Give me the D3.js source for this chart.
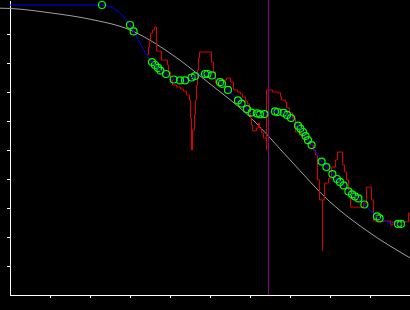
<!DOCTYPE html>
<html>
<head>
<meta charset="utf-8">
<script src="https://cdn.jsdelivr.net/npm/d3@7"></script>
<style>
  body { margin: 0; background: #000; }
  #graphic { width: 410px; height: 310px; }
</style>
</head>
<body>
<div id="graphic"></div>
<script>
// reference curve (gray)
const refX = [-2.5, 0, 10, 20, 30, 40, 50, 60, 70, 80, 90, 100];
const refY = [98.9, 98.8, 97.3, 95.1, 91.4, 83.4, 72.8, 61.4, 46.6, 32.1, 21.4, 12.8];

// raw signal (red, stepped)
const rawX = [34.25, 34.5, 34.75, 35, 35.5, 36, 36.5, 37.75, 39.25, 39.5, 40, 40.5, 41.5, 42.5, 43.25, 44, 44.75, 45, 45.25, 45.5, 46, 46.25, 46.5, 46.75, 47, 47.25,
  50.25, 50.75, 51.25, 52.25, 54, 55, 55.75, 56.75, 57.5, 58, 58.75, 59.25, 59.75, 60, 60.25, 60.5, 61.5, 62, 62.25, 62.75, 63.25, 64,
  64, 65.5, 67, 67.5, 67.75, 68.75, 69, 69.75, 70.5, 71.25, 72, 72.75, 73.5, 74.25, 75, 75.75, 76.25, 76.75, 77.25, 78, 78, 78.5,
  79.5, 80.25, 81.25, 81.75, 83, 83.5, 84, 84.5, 85, 88.25, 89, 90.25, 90.75, 94.5, 95, 95.5, 99.25, 99.5, 100];
const rawY = [82.8, 85.2, 87.9, 90.3, 91.4, 92.4, 84.1, 81.0, 79.3, 76.9, 74.1, 72.4, 71.7, 71.0, 70.3, 69.0, 67.2, 61.0, 50.0, 56.9, 62.1, 67.2, 72.4, 77.6, 81.7, 83.8,
  80.3, 76.9, 73.1, 74.1, 74.8, 73.4, 70.7, 70.0, 69.3, 68.3, 66.9, 65.9, 63.4, 61.0, 58.6, 56.6, 57.6, 59.3, 57.6, 55.9, 54.1, 50.0,
  70.7, 70.0, 69.7, 68.3, 67.2, 66.6, 64.5, 62.8, 61.0, 56.2, 55.9, 54.8, 54.1, 53.1, 51.7, 50.0, 48.3, 39.7, 32.8, 15.2, 32.8, 38.6,
  40.3, 44.1, 46.6, 49.3, 44.8, 42.4, 39.7, 36.2, 30.3, 31.7, 37.2, 32.8, 25.5, 25.5, 24.1, 25.2, 25.2, 28.3, 28.3];

// fitted samples (green circles, joined by blue)
const fitX = [23, 30, 30.9, 35.5, 36.25, 37, 37.6, 39, 40.9, 42.5, 43.75, 45.4, 46.25, 48.75, 49.4, 50.5, 52.5, 53, 54.5, 57, 57.9, 59.25, 60.4, 61.75, 62.5, 63.6,
  66.25, 66.9, 68.4, 69.25, 70.25, 72, 72.6, 73.25, 73.9, 74.5, 75.4, 77.9, 79.1, 80.6, 81.75, 82.5, 83.4, 84.6, 85.5, 86.25, 87.1, 88.6, 91.75, 92.4, 97, 97.75];
const fitY = [100, 93.1, 90.9, 80.3, 79.3, 78.3, 77.4, 76.2, 74.3, 74.0, 74.0, 75.0, 75.5, 76.2, 76.2, 75.7, 73.4, 72.8, 70.7, 67.1, 66.0, 64.1, 62.9, 62.6, 62.3, 62.4,
  63.3, 63.1, 62.8, 62.1, 61.0, 58.4, 57.4, 56.2, 54.8, 53.4, 51.7, 46.0, 44.1, 41.7, 40.0, 39.0, 37.8, 35.7, 34.7, 34.0, 33.3, 31.2, 27.1, 26.4, 24.5, 24.5];

const startX = 0, startY = 100;
const markerX = 64.625;
const tickVals = [10, 20, 30, 40, 50, 60, 70, 80, 90];

const width = 410, height = 310;

const svg = d3.select("#graphic")
    .append("svg")
    .attr("width", width)
    .attr("height", height)
    .style("display", "block");

const x = d3.scaleLinear().domain([0, 100]).range([10, 410]);
const y = d3.scaleLinear().domain([0, 101.72]).range([295, 0]);

// axes
svg.append("g")
    .attr("transform", "translate(10,0)")
    .call(d3.axisLeft(y).tickValues(tickVals).tickSize(3).tickSizeOuter(0).tickFormat(""))
    .call(g => g.selectAll("path, line").attr("stroke", "#fff").attr("shape-rendering", "crispEdges"));

svg.append("g")
    .attr("transform", "translate(0,295)")
    .call(d3.axisBottom(x).tickValues(tickVals).tickSize(3).tickSizeOuter(0).tickFormat(""))
    .call(g => g.selectAll("path, line").attr("stroke", "#fff").attr("shape-rendering", "crispEdges"));

// gray reference
const refPts = refX.map((v, i) => [v, refY[i]]);
svg.append("path")
    .datum(refPts)
    .attr("fill", "none")
    .attr("stroke", "#a0a0a0")
    .attr("stroke-width", 1)
    .attr("d", d3.line().x(d => x(d[0])).y(d => y(d[1])).curve(d3.curveMonotoneX));

// red raw signal, shifted half a pixel so the verticals stay sharp
const rawPts = rawX.map((v, i) => [v, rawY[i]]);
svg.append("path")
    .datum(rawPts)
    .attr("transform", "translate(0.5,0)")
    .attr("fill", "none")
    .attr("stroke", "#dd0000")
    .attr("stroke-width", 1)
    .attr("d", d3.line().x(d => x(d[0])).y(d => y(d[1])).curve(d3.curveStepAfter));

// blue fit
const fitPts = fitX.map((v, i) => [v, fitY[i]]);
svg.append("path")
    .datum([[startX, startY]].concat(fitPts))
    .attr("fill", "none")
    .attr("stroke", "#0000ff")
    .attr("stroke-width", 1)
    .attr("d", d3.line().x(d => x(d[0])).y(d => y(d[1])).curve(d3.curveMonotoneX));

// marker
svg.append("line")
    .attr("x1", x(markerX)).attr("x2", x(markerX))
    .attr("y1", 0).attr("y2", y(0))
    .attr("stroke", "#8b008b")
    .attr("stroke-width", 1);

// green sample rings
svg.selectAll(".ring")
    .data(fitPts)
    .join("circle")
    .attr("class", "ring")
    .attr("cx", d => x(d[0]))
    .attr("cy", d => y(d[1]))
    .attr("r", 3.5)
    .attr("fill", "none")
    .attr("stroke", "#00ff00")
    .attr("stroke-width", 1.2);

svg.selectAll(".dot")
    .data(fitPts)
    .join("circle")
    .attr("class", "dot")
    .attr("cx", d => x(d[0]))
    .attr("cy", d => y(d[1]))
    .attr("r", 0.8)
    .attr("fill", "#0000ff");
</script>
</body>
</html>
